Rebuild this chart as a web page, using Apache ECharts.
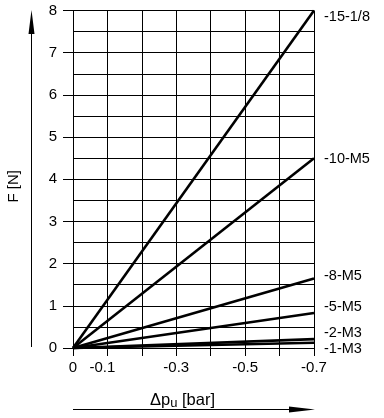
<!DOCTYPE html>
<html>
<head>
<meta charset="utf-8">
<script src="https://cdn.jsdelivr.net/npm/echarts@6/dist/echarts.min.js"></script>
<style>
html,body{margin:0;padding:0;background:#fff;}
#chart{width:384px;height:418px;}
</style>
</head>
<body>
<div id="chart"></div>
<script>
// ---- data ----
const seriesNames = ['-15-1/8', '-10-M5', '-8-M5', '-5-M5', '-2-M3', '-1-M3'];
const deltaP = [0, -0.7];                 // bar
const force_15_18 = [0, 8.0];             // N
const force_10_M5 = [0, 4.5];
const force_8_M5 = [0, 1.65];
const force_5_M5 = [0, 0.83];
const force_2_M3 = [0, 0.21];
const force_1_M3 = [0, 0.125];
const xTickLabels = ['0', '-0.1', '-0.3', '-0.5', '-0.7'];
const yTickLabels = ['0', '1', '2', '3', '4', '5', '6', '7', '8'];

const forces = [force_15_18, force_10_M5, force_8_M5, force_5_M5, force_2_M3, force_1_M3];
const labelDy = [6, 1, -2, -6, -6, 6];

const FONT = 'Liberation Sans';
const chart = echarts.init(document.getElementById('chart'), null, {renderer: 'canvas'});

const series = seriesNames.map((name, i) => ({
  name: name,
  type: 'line',
  data: deltaP.map((x, k) => [x, forces[i][k]]),
  symbol: 'none',
  lineStyle: {color: '#000', width: 2.6},
  itemStyle: {color: '#000'},
  clip: false,
  silent: true,
  endLabel: {
    show: true,
    formatter: name,
    color: '#000',
    fontFamily: FONT,
    fontSize: 14.5,
    align: 'left',
    verticalAlign: 'middle',
    distance: 0,
    offset: [10, labelDy[i]]
  }
}));

function fmtX(v) {
  const s = (Math.round(v * 10) / 10).toString();
  const t = s === '-0' ? '0' : s;
  if (xTickLabels.indexOf(t) < 0) return '';
  if (t === '-0.1') return '{shift|' + t + '}';
  return t;
}

chart.setOption({
  animation: false,
  backgroundColor: '#fff',
  grid: {left: 73, right: 70, top: 10.5, bottom: 70, containLabel: false, outerBoundsMode: 'none'},
  xAxis: {
    type: 'value',
    inverse: true,
    min: -0.7,
    max: 0,
    interval: 0.1,
    name: '{d|Δp}{s|u}{d| [bar]}',
    nameLocation: 'middle',
    nameGap: 42,
    nameTextStyle: {
      padding: [0, 22, 0, 0],
      rich: {
        d: {fontFamily: FONT, fontSize: 16.5, color: '#000'},
        s: {fontFamily: FONT, fontSize: 13, color: '#000', padding: [7, 0, 0, 0]}
      }
    },
    axisLine: {show: true, onZero: false, lineStyle: {color: '#000', width: 1}},
    axisTick: {show: true, length: 8, inside: false, lineStyle: {color: '#000', width: 1}},
    axisLabel: {
      show: true, margin: 12, color: '#000', fontFamily: FONT, fontSize: 15,
      formatter: fmtX,
      rich: {shift: {fontFamily: FONT, fontSize: 15, color: '#000', padding: [0, 10, 0, 0]}}
    },
    splitLine: {show: true, lineStyle: {color: '#000', width: 1}}
  },
  yAxis: {
    type: 'value',
    min: 0,
    max: 8,
    interval: 1,
    name: 'F [N]',
    nameLocation: 'middle',
    nameRotate: 90,
    nameGap: 52,
    nameTextStyle: {fontFamily: FONT, fontSize: 15, color: '#000', padding: [0, 14, 0, 0]},
    axisLine: {show: true, lineStyle: {color: '#000', width: 1}},
    axisTick: {show: true, length: 10, inside: false, lineStyle: {color: '#000', width: 1}},
    axisLabel: {
      show: true, margin: 16, color: '#000', fontFamily: FONT, fontSize: 15,
      formatter: v => yTickLabels[Math.round(v)] || ''
    },
    splitLine: {show: true, lineStyle: {color: '#000', width: 1}},
    minorTick: {show: false, splitNumber: 2},
    minorSplitLine: {show: true, lineStyle: {color: '#000', width: 1}}
  },
  graphic: [
    {type: 'line', shape: {x1: 31.5, y1: 347, x2: 31.5, y2: 30}, style: {stroke: '#000', lineWidth: 1}},
    {type: 'polygon', shape: {points: [[31.5, 10], [28.5, 34], [34.5, 34]]}, style: {fill: '#000'}},
    {type: 'line', shape: {x1: 73, y1: 409.5, x2: 292, y2: 409.5}, style: {stroke: '#000', lineWidth: 1}},
    {type: 'polygon', shape: {points: [[315, 409.5], [289, 406.5], [289, 412.5]]}, style: {fill: '#000'}}
  ],
  series: series
});
</script>
</body>
</html>
